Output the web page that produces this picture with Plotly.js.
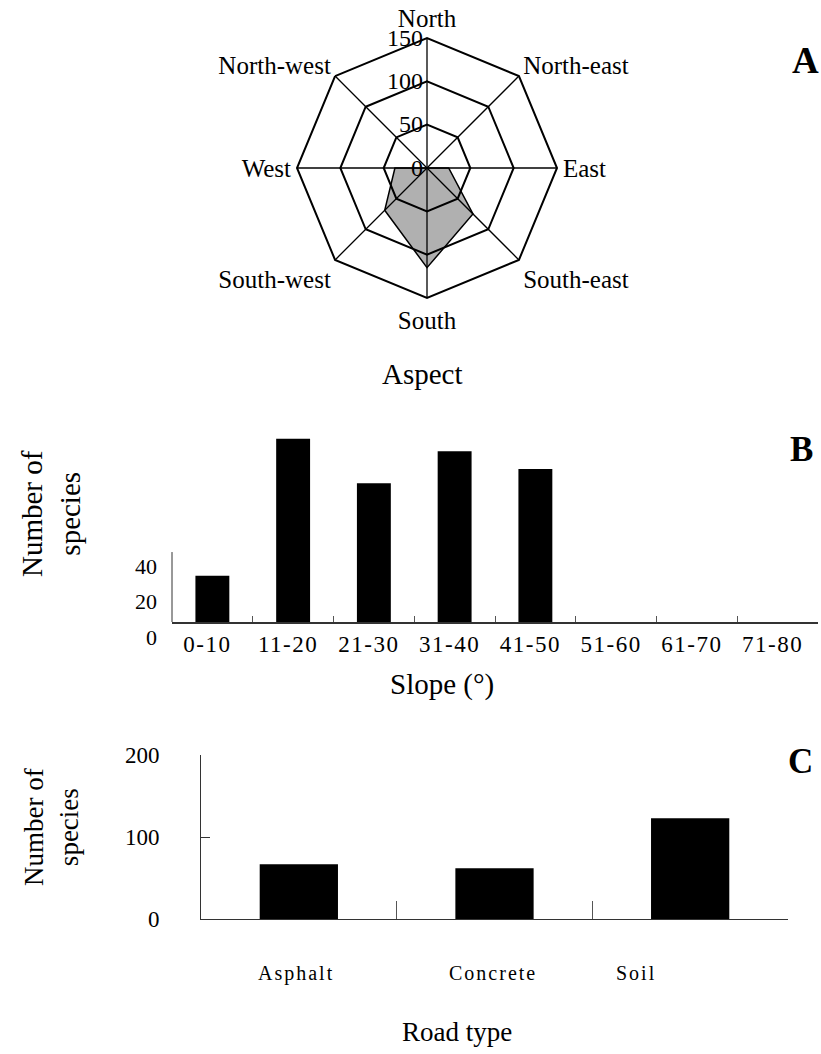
<!DOCTYPE html>
<html>
<head>
<meta charset="utf-8">
<script src="https://cdn.plot.ly/plotly-3.0.1.min.js"></script>
<style>
  html, body { margin: 0; padding: 0; background: #fff; }
  #chart { width: 821px; height: 1054px; }
  .x2tick text { letter-spacing: 1.5px; }
  g.annotation[data-index="0"] text,
  g.annotation[data-index="1"] text,
  g.annotation[data-index="2"] text { letter-spacing: 2px; }
</style>
</head>
<body>
<div id="chart"></div>
<script>
// ---- data ----
const aspectDirs = ['North', 'North-east', 'East', 'South-east', 'South', 'South-west', 'West', 'North-west'];
const aspectSpecies = [0, 0, 25, 75, 115, 69, 37, 0];
const aspectTicks = [0, 50, 100, 150];

const slopeClasses = ['0-10', '11-20', '21-30', '31-40', '41-50', '51-60', '61-70', '71-80'];
const slopeSpecies = [26, 103, 78, 96, 86, 0, 0, 0];
const slopeTicks = [0, 20, 40];

const roadTypes = ['Asphalt', 'Concrete', 'Soil'];
const roadSpecies = [67, 62, 123];
const roadTicks = [0, 100, 200];

// ---- page geometry helpers (pixels -> paper fractions) ----
const W = 821, H = 1054;
const px = v => v / W;
const py = v => 1 - v / H;

const serif = 'Liberation Serif, Times New Roman, serif';

const traces = [
  {
    type: 'scatterpolar',
    r: aspectSpecies.concat([aspectSpecies[0]]),
    theta: aspectDirs.concat([aspectDirs[0]]),
    mode: 'lines',
    fill: 'toself',
    fillcolor: 'rgba(0,0,0,0.31)',
    line: { color: 'black', width: 1.5 },
    hoverinfo: 'skip'
  },
  {
    type: 'bar',
    x: slopeClasses,
    y: slopeSpecies,
    xaxis: 'x2', yaxis: 'y2',
    marker: { color: 'black', line: { width: 0 } },
    width: 0.42
  },
  {
    type: 'bar',
    x: roadTypes,
    y: roadSpecies,
    xaxis: 'x3', yaxis: 'y3',
    marker: { color: 'black', line: { width: 0 } },
    width: 0.4
  }
];

const cx = 427, cy = 168, R = 130;

const layout = {
  width: W, height: H,
  margin: { l: 0, r: 0, t: 0, b: 0 },
  paper_bgcolor: 'white',
  plot_bgcolor: 'white',
  showlegend: false,
  font: { family: serif, color: 'black' },
  polar: {
    domain: { x: [px(cx - R), px(cx + R)], y: [py(cy + R), py(cy - R)] },
    gridshape: 'linear',
    bgcolor: 'white',
    angularaxis: {
      type: 'category',
      categoryarray: aspectDirs,
      direction: 'clockwise',
      rotation: 90,
      showline: true, linecolor: 'black', linewidth: 2,
      showgrid: true, gridcolor: 'black', gridwidth: 1.3,
      ticks: '',
      tickfont: { family: serif, size: 25, color: 'black' }
    },
    radialaxis: {
      range: [0, 150],
      tickmode: 'array', tickvals: aspectTicks,
      angle: 90, side: 'counterclockwise',
      showline: false,
      showgrid: true, gridcolor: 'black', gridwidth: 2,
      ticks: '',
      tickangle: 90,
      ticklabelshift: -12,
      tickfont: { family: serif, size: 24, color: 'black' }
    }
  },
  xaxis2: {
    domain: [px(172), px(818)],
    anchor: 'y2',
    type: 'category',
    showline: true, linecolor: '#333', linewidth: 2,
    ticks: 'inside', tickson: 'boundaries', ticklen: 6, tickcolor: '#555', tickwidth: 1,
    tickfont: { family: serif, size: 23, color: 'black' },
    ticklabelshift: -5,
    ticklabelstandoff: 0,
    showgrid: false, zeroline: false, fixedrange: true
  },
  yaxis2: {
    domain: [py(622), py(429.8)],
    anchor: 'x2',
    range: [0, 108],
    showline: false, showgrid: false, zeroline: false,
    tickmode: 'array', tickvals: slopeTicks,
    ticks: '',
    tickfont: { family: serif, size: 22, color: 'black' },
    ticklabelshift: 15,
    ticklabelstandoff: 14,
    fixedrange: true
  },
  xaxis3: {
    domain: [px(201), px(788)],
    anchor: 'y3',
    type: 'category',
    showline: true, linecolor: '#333', linewidth: 1,
    ticks: 'inside', tickson: 'boundaries', ticklen: 18, tickcolor: '#555', tickwidth: 1,
    showticklabels: false,
    showgrid: false, zeroline: false, fixedrange: true
  },
  yaxis3: {
    domain: [py(919.3), py(755)],
    anchor: 'x3',
    range: [0, 200],
    showline: true, linecolor: '#333', linewidth: 1,
    showgrid: false, zeroline: false,
    tickmode: 'array', tickvals: roadTicks,
    ticks: 'inside', ticklen: 9, tickcolor: '#333', tickwidth: 1,
    tickfont: { family: serif, size: 23, color: 'black' },
    ticklabelstandoff: 36,
    fixedrange: true
  },
  shapes: [
    { type: 'line', xref: 'x2 domain', yref: 'y2', x0: 0, x1: 0, y0: 0, y1: 39.3,
      line: { color: '#333', width: 1 } }
  ],
  annotations: [
    // road type category labels (indices 0-2 used by CSS letter-spacing)
    { text: roadTypes[0], xref: 'x3', yref: 'paper', x: roadTypes[0], y: py(973), xshift: -2,
      showarrow: false, xanchor: 'center', yanchor: 'middle', font: { family: serif, size: 20 } },
    { text: roadTypes[1], xref: 'x3', yref: 'paper', x: roadTypes[1], y: py(973), xshift: -2,
      showarrow: false, xanchor: 'center', yanchor: 'middle', font: { family: serif, size: 20 } },
    { text: roadTypes[2], xref: 'x3', yref: 'paper', x: roadTypes[2], y: py(973), xshift: -54,
      showarrow: false, xanchor: 'center', yanchor: 'middle', font: { family: serif, size: 20 } },
    // axis titles
    { text: 'Aspect', xref: 'paper', yref: 'paper', x: px(422), y: py(374),
      showarrow: false, xanchor: 'center', yanchor: 'middle', font: { family: serif, size: 29 } },
    { text: 'Slope (°)', xref: 'paper', yref: 'paper', x: px(442), y: py(684),
      showarrow: false, xanchor: 'center', yanchor: 'middle', font: { family: serif, size: 29 } },
    { text: 'Road type', xref: 'paper', yref: 'paper', x: px(457), y: py(1032),
      showarrow: false, xanchor: 'center', yanchor: 'middle', font: { family: serif, size: 27 } },
    { text: 'Number of<br>species', xref: 'paper', yref: 'paper', x: px(51), y: py(514), textangle: -90,
      showarrow: false, xanchor: 'center', yanchor: 'middle', font: { family: serif, size: 29 } },
    { text: 'Number of<br>species', xref: 'paper', yref: 'paper', x: px(51), y: py(827), textangle: -90,
      showarrow: false, xanchor: 'center', yanchor: 'middle', font: { family: serif, size: 27 } },
    // panel letters
    { text: '<b>A</b>', xref: 'paper', yref: 'paper', x: px(805), y: py(61),
      showarrow: false, xanchor: 'center', yanchor: 'middle', font: { family: serif, size: 37 } },
    { text: '<b>B</b>', xref: 'paper', yref: 'paper', x: px(801), y: py(449),
      showarrow: false, xanchor: 'center', yanchor: 'middle', font: { family: serif, size: 35 } },
    { text: '<b>C</b>', xref: 'paper', yref: 'paper', x: px(800), y: py(762),
      showarrow: false, xanchor: 'center', yanchor: 'middle', font: { family: serif, size: 35 } }
  ]
};

Plotly.newPlot('chart', traces, layout, { staticPlot: true, displayModeBar: false });
</script>
</body>
</html>
